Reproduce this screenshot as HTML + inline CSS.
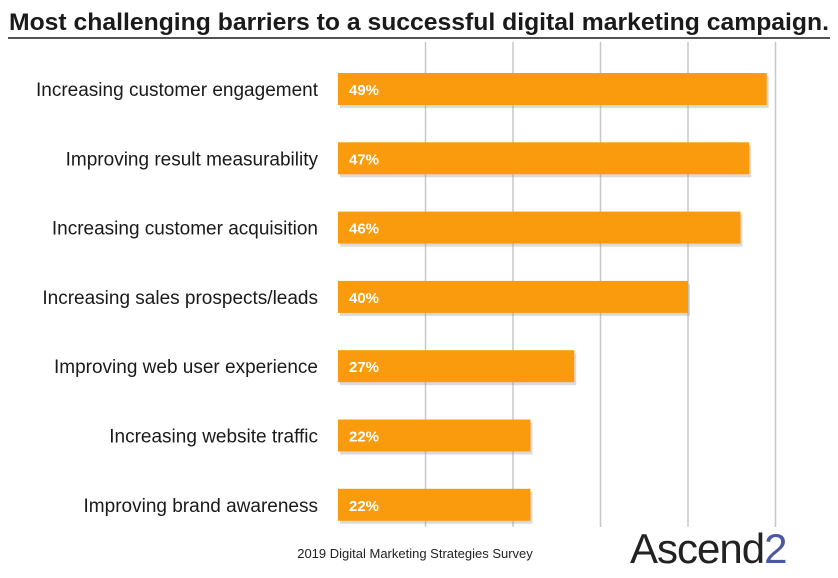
<!DOCTYPE html>
<html><head><meta charset="utf-8"><style>
body{margin:0;background:#fff;}
svg text{font-family:"Liberation Sans",sans-serif;}
</style></head><body>
<svg id="c" width="838" height="573">
<text x="419" y="30" text-anchor="middle" font-size="24" font-weight="bold" fill="#1a1a1a" textLength="820" lengthAdjust="spacingAndGlyphs">Most challenging barriers to a successful digital marketing campaign.</text>
<line x1="8" y1="38" x2="830" y2="38" stroke="#1a1a1a" stroke-width="1.5"/>
<g id="grid"></g><g id="bars"></g>
<text x="415" y="558" text-anchor="middle" font-size="13" fill="#222">2019 Digital Marketing Strategies Survey</text>
<text x="630" y="563" font-family="Liberation Serif,serif" font-size="42" fill="#222" letter-spacing="-1">Ascend<tspan fill="#4b57a0">2</tspan></text>
</svg>
<script>
const categories=["Increasing customer engagement","Improving result measurability","Increasing customer acquisition","Increasing sales prospects/leads","Improving web user experience","Increasing website traffic","Improving brand awareness"];
const values=[49,47,46,40,27,22,22];
const gridTicks=[10,20,30,40,50];
const NS="http://www.w3.org/2000/svg";
const x=v=>338+v*8.75;
const y=i=>73+i*69.3;
function mk(t,a,p){const e=document.createElementNS(NS,t);for(const k in a)e.setAttribute(k,a[k]);p.appendChild(e);return e;}
const g=document.getElementById('grid'),b=document.getElementById('bars');
gridTicks.forEach(t=>{const l=mk('line',{x1:x(t),x2:x(t),y1:42,y2:527,stroke:'#c8c8c8','stroke-width':1.5},g);

});
values.forEach((v,i)=>{
const s=mk('rect',{x:x(0)+2,y:y(i)+3,width:x(v)-x(0),height:32,fill:'#999',opacity:0.35},b);


const r=mk('rect',{x:x(0),y:y(i),width:x(v)-x(0),height:32,fill:'#f99b0c'},b);


const t=mk('text',{x:x(0)+11,y:y(i)+22,'font-size':15,'font-weight':'bold',fill:'#fff'},b);t.textContent=v+'%';


const c=mk('text',{x:318,y:y(i)+23,'text-anchor':'end','font-size':19,fill:'#1a1a1a'},b);c.textContent=categories[i];


});
</script>
</body></html>
